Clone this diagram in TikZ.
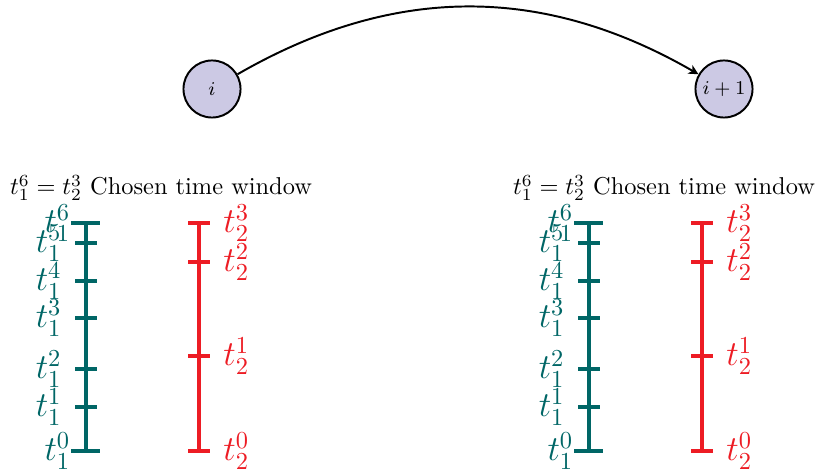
\documentclass[tikz,border=0pt]{standalone}
\usepackage{amsmath,amssymb}
\usepackage{xcolor}
\usepackage{tikz}
\usetikzlibrary{arrows.meta,positioning}
\definecolor{axisteal}{RGB}{0,102,102}
\definecolor{axisred}{RGB}{237,28,36}
\definecolor{statefill}{RGB}{204,201,228}

\begin{document}
\begin{tikzpicture}[
  x=0.41pt, y=-0.41pt,
  state/.style={draw, circle, thick, minimum size=23.4pt, inner sep=0pt, font=\footnotesize, fill=statefill},
  arrow/.style={-{Stealth[length=4pt, width=4pt, inset=1.2pt]}, thick},
  tline/.style={line width=1.4pt, color=axisteal},
  rline/.style={line width=1.4pt, color=axisred},
  tlab/.style={font=\Large, text=axisteal, inner sep=0pt},
  rlab/.style={font=\Large, text=axisred, inner sep=0pt},
]
\useasboundingbox (0,0) rectangle (818,470);

\node[state] (i) at (212,89) {$i$};
\node[state] (ip) at (724,89) {$i+1$};
\draw[arrow] (i) to[bend left=30] (ip);

\foreach \dx/\p in {0/L,503/R}{
\begin{scope}[shift={(\dx,0)}]
\node (\p-title) at (161,188) {$t_1^6 = t_2^3$ Chosen time window};

% first time line
\foreach \k/\y in {0/451,1/407,2/369,3/318,4/281,5/243,6/223}
  \coordinate (\p-a\k) at (86,\y);
\draw[tline] (\p-a0) -- (\p-a6);
\foreach \k in {0,6}
  \draw[tline] (\p-a\k) ++(-15,0) -- ++(29,0);
\foreach \k in {1,...,5}
  \draw[tline] (\p-a\k) ++(-11,0) -- ++(22,0);
\foreach \k in {0,6}
  \node[tlab, left=6.2pt of \p-a\k] (\p-la\k) {$t_1^{\k}$};
\foreach \k in {1,...,5}
  \node[tlab, left=9.8pt of \p-a\k] (\p-la\k) {$t_1^{\k}$};

% second time line
\foreach \k/\y in {0/451,1/356,2/262,3/223}
  \coordinate (\p-b\k) at (199,\y);
\draw[rline] (\p-b0) -- (\p-b3);
\foreach \k in {0,...,3}
  \draw[rline] (\p-b\k) ++(-11,0) -- ++(22,0);
\foreach \k in {0,...,3}
  \node[rlab, right=9.8pt of \p-b\k] (\p-lb\k) {$t_2^{\k}$};
\end{scope}
}

\end{tikzpicture}
\end{document}
